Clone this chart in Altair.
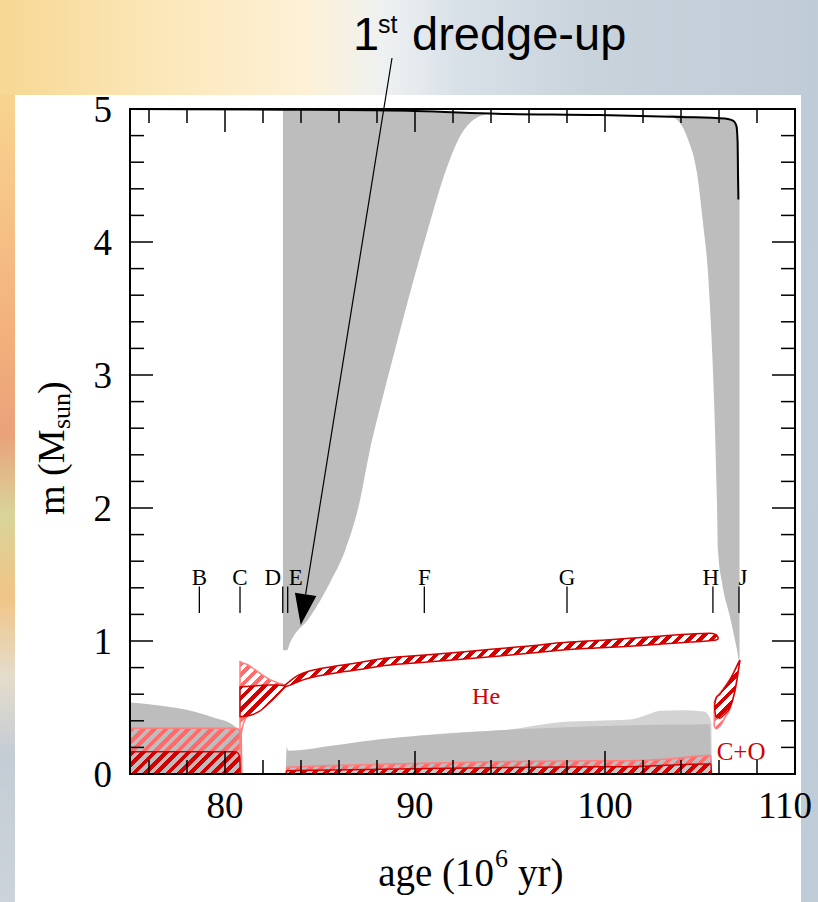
import math
import altair as alt
import pandas as pd

# ---------------- geometry of the plot ----------------
PLOT_W, PLOT_H = 665, 665
PAD = {"left": 130, "top": 109, "right": 23, "bottom": 128}
AGE_DOMAIN = [75, 110]
MASS_DOMAIN = [0, 5]
PX_PER_AGE = PLOT_W / (AGE_DOMAIN[1] - AGE_DOMAIN[0])
PX_PER_MASS = PLOT_H / (MASS_DOMAIN[1] - MASS_DOMAIN[0])

X_SCALE = alt.Scale(domain=AGE_DOMAIN, nice=False, zero=False)
Y_SCALE = alt.Scale(domain=MASS_DOMAIN, nice=False, zero=False)

# ---------------- data (age in Myr, mass coordinate in Msun) ----------------
# total stellar mass (surface)
surface_age = [75, 83, 90, 94.3, 99.7, 104, 106.3, 106.6, 106.8, 106.92, 106.98, 107.0, 107.02]
surface_mass = [5.0, 4.995, 4.985, 4.965, 4.955, 4.94, 4.928, 4.92, 4.905, 4.87, 4.75, 4.5, 4.32]

# convective core on the main sequence
mscore_age = [75, 76, 77.7, 78.5, 79.5, 80.3, 80.6, 80.75, 80.8, 80.83]
mscore_top = [0.537, 0.525, 0.49, 0.465, 0.42, 0.38, 0.34, 0.28, 0.2, 0.0]

# core hydrogen burning (weak / strong energy generation)
hcore_weak_age = [75, 80.6, 80.75, 80.85, 80.88]
hcore_weak_top = [0.344, 0.344, 0.33, 0.29, 0.0]
hcore_strong_age = [75, 80.55, 80.7, 80.78, 80.8]
hcore_strong_top = [0.168, 0.168, 0.155, 0.12, 0.0]

# thick hydrogen shell after core exhaustion
thick_weak_age = [80.79, 80.8, 80.85, 81.14, 81.67, 82.37, 82.9, 83.16, 83.25]
thick_weak_lo = [0.17, 0.2, 0.3, 0.43, 0.48, 0.57, 0.63, 0.655, 0.662]
thick_weak_hi = [0.845, 0.845, 0.84, 0.825, 0.775, 0.71, 0.68, 0.667, 0.662]
thick_strong_age = [80.79, 81.3, 81.8, 82.3, 82.8, 83.16]
thick_strong_lo = [0.43, 0.44, 0.47, 0.53, 0.6, 0.655]
thick_strong_hi = [0.655, 0.66, 0.665, 0.67, 0.67, 0.662]

# convective envelope on the giant branch (1st dredge-up)
env_age = [83.05, 83.26, 83.42, 84.47, 85.53, 86.32, 87.11, 87.63, 88.26, 88.95,
           89.63, 90.63, 91.68, 92.47, 92.89, 93.58, 93.9]
env_lo = [0.93, 0.93, 0.985, 1.18, 1.44, 1.68, 2.06, 2.44, 2.81, 3.19,
          3.56, 4.07, 4.56, 4.82, 4.895, 4.955, 4.965]
env_hi = [4.995, 4.995, 4.994, 4.992, 4.99, 4.988, 4.986, 4.985, 4.983, 4.981,
          4.979, 4.976, 4.973, 4.97, 4.968, 4.966, 4.965]

# convective envelope on the early AGB
agb_env_age = [103.2, 103.26, 103.95, 104.37, 104.84, 105.16, 105.42, 105.6, 105.74,
               105.89, 105.95, 106.16, 106.58, 106.95, 107.05, 107.08]
agb_env_lo = [4.955, 4.955, 4.895, 4.77, 4.52, 4.14, 3.77, 3.3, 2.81,
              2.06, 1.68, 1.44, 1.18, 0.93, 0.857, 0.857]
agb_env_hi = [4.955, 4.956, 4.952, 4.948, 4.944, 4.94, 4.937, 4.935, 4.933,
              4.93, 4.928, 4.925, 4.92, 4.88, 4.6, 4.3]

# hydrogen burning shell on top of the He core
hshell_age = [83.16, 83.5, 83.84, 84.5, 85.68, 87.1, 88.16, 90, 92, 94, 96, 97.63,
              99.5, 101.3, 103, 104.5, 105.5, 105.85, 105.95]
hshell_lo = [0.656, 0.672, 0.694, 0.724, 0.756, 0.785, 0.811, 0.835, 0.858, 0.882,
             0.907, 0.930, 0.947, 0.960, 0.978, 0.992, 1.002, 1.008, 1.016]
hshell_hi = [0.668, 0.708, 0.742, 0.776, 0.808, 0.839, 0.865, 0.889, 0.912, 0.938,
             0.963, 0.986, 1.003, 1.020, 1.038, 1.052, 1.058, 1.048, 1.028]

# convective core during core helium burning (+ semiconvective zone)
hecore_age = [83.2, 83.25, 83.32, 84, 85.5, 87.1, 88.16, 90, 92, 94, 96, 98, 100,
              102, 104, 105.5, 105.6]
hecore_top = [0.0, 0.205, 0.175, 0.18, 0.21, 0.243, 0.262, 0.285, 0.305, 0.325,
              0.34, 0.352, 0.36, 0.368, 0.372, 0.375, 0.0]
semiconv_age = [90, 92, 94.7, 97.63, 99.5, 101.3, 102.3, 102.9, 104, 105.2, 105.45, 105.6, 105.62]
semiconv_top = [0.285, 0.31, 0.33, 0.39, 0.40, 0.41, 0.45, 0.475, 0.48, 0.47, 0.44, 0.375, 0.0]

# core helium burning (weak / strong)
heburn_weak_age = [83.22, 83.25, 88.16, 97.63, 101.3, 103.5, 105.4, 105.58, 105.6]
heburn_weak_top = [0.0, 0.05, 0.073, 0.098, 0.1, 0.115, 0.14, 0.14, 0.0]
heburn_strong_age = [83.22, 83.25, 88.16, 97.63, 101.3, 105.4, 105.58, 105.6]
heburn_strong_top = [0.0, 0.025, 0.035, 0.053, 0.055, 0.075, 0.075, 0.0]

# helium shell burning after core He exhaustion
heshell_weak_age = [105.75, 105.85, 106.05, 106.3, 106.58, 106.84, 107.1]
heshell_weak_lo = [0.36, 0.34, 0.36, 0.42, 0.49, 0.62, 0.857]
heshell_weak_hi = [0.54, 0.575, 0.61, 0.655, 0.715, 0.785, 0.857]
heshell_strong_age = [105.78, 105.85, 106.05, 106.3, 106.58, 106.84, 107.0, 107.1]
heshell_strong_lo = [0.48, 0.43, 0.42, 0.45, 0.5, 0.63, 0.76, 0.857]
heshell_strong_hi = [0.53, 0.57, 0.6, 0.65, 0.71, 0.78, 0.83, 0.857]

# evolutionary phase markers
phase_labels = ["B", "C", "D", "E", "F", "G", "H", "J"]
phase_age = [78.65, 80.79, 83.04, 83.3, 90.49, 98.0, 105.68, 107.05]
phase_label_shift = [0, 0, -10, 8, 0, 0, -2, 4]

# axis ticks and tick labels
x_major = [80, 90, 100, 110]
x_minor = [76, 78, 82, 84, 86, 88, 92, 94, 96, 98, 102, 104, 106, 108]
y_major = [1, 2, 3, 4]
y_minor = [0.2, 0.4, 0.6, 0.8, 1.2, 1.4, 1.6, 1.8, 2.2, 2.4, 2.6, 2.8,
           3.2, 3.4, 3.6, 3.8, 4.2, 4.4, 4.6, 4.8]
x_labels = [80, 90, 100]
x_edge_label = [110]
y_labels = [0, 1, 2, 3, 4, 5]

# ---------------- colours ----------------
GREY = "#bdbdbd"
LIGHT_GREY = "#d3d3d3"
RED = "#d40000"
PINK = "#ff6b6b"
SERIF = "Liberation Serif"
SANS = "Liberation Sans"


def table(age, lo, hi=None):
    if hi is None:
        return pd.DataFrame({"age": age, "lo": [0.0] * len(age), "hi": lo})
    return pd.DataFrame({"age": age, "lo": lo, "hi": hi})


def hatch(df, on, off, period=8.0, duty=0.5):
    """Diagonal '/' hatching as a hard-stop linear gradient in bbox units."""
    w = (df["age"].max() - df["age"].min()) * PX_PER_AGE
    h = (df["hi"].max() - df["lo"].min()) * PX_PER_MASS
    w, h = max(w, 1.0), max(h, 1.0)
    dt = period * math.sqrt(2) / (w + h)
    stops = []
    t = 0.0
    while t < 1.0:
        a = min(t + duty * dt, 1.0)
        b = min(t + dt, 1.0)
        stops += [alt.GradientStop(color=on, offset=round(t, 6)),
                  alt.GradientStop(color=on, offset=round(a, 6)),
                  alt.GradientStop(color=off, offset=round(a, 6)),
                  alt.GradientStop(color=off, offset=round(b, 6))]
        t += dt
    k = (w + h) / (w * w + h * h)
    return alt.LinearGradient(gradient="linear", stops=stops,
                              x1=0, y1=0, x2=w * k, y2=h * k)


def area(df, fill, stroke=None, width=0.0, interp="monotone"):
    kw = {"fill": fill, "interpolate": interp}
    if stroke is not None:
        kw.update(stroke=stroke, strokeWidth=width)
    return alt.Chart(df).mark_area(**kw).encode(
        x=alt.X("age:Q", scale=X_SCALE, axis=None),
        y=alt.Y("lo:Q", scale=Y_SCALE, axis=None),
        y2="hi:Q",
    )


one = pd.DataFrame({"a": [0]})


def px_text(text, x, y, size, font=SERIF, color="black", align="left", angle=0,
            baseline="alphabetic"):
    kw = dict(text=text, font=font, fontSize=size, color=color, align=align,
              baseline=baseline)
    if angle:
        kw["angle"] = angle
    return alt.Chart(one).mark_text(**kw).encode(x=alt.value(x), y=alt.value(y))


def data_text(text, age, m, size, color, dx=0):
    return alt.Chart(one).mark_text(
        text=text, font=SERIF, fontSize=size, color=color, align="center", dx=dx).encode(
        x=alt.XDatum(age, scale=X_SCALE, axis=None),
        y=alt.YDatum(m, scale=Y_SCALE, axis=None))


def px_rect(x0, x1, y0, y1, fill):
    return alt.Chart(one).mark_rect(fill=fill, strokeWidth=0).encode(
        x=alt.value(x0), x2=alt.value(x1), y=alt.value(y0), y2=alt.value(y1))


layers = []

# ---------------- slide background and white panel ----------------
L, T = PAD["left"], PAD["top"]
bg_top = alt.LinearGradient(gradient="linear", x1=0, y1=0, x2=1, y2=0, stops=[
    alt.GradientStop(color="#f7d894", offset=0.0),
    alt.GradientStop(color="#fbe6b6", offset=0.18),
    alt.GradientStop(color="#fdf1d8", offset=0.38),
    alt.GradientStop(color="#eef1f2", offset=0.47),
    alt.GradientStop(color="#d9e1e8", offset=0.56),
    alt.GradientStop(color="#c9d3dc", offset=0.72),
    alt.GradientStop(color="#bfcbd6", offset=1.0)])
layers.append(px_rect(-L, PLOT_W + PAD["right"], -T, PLOT_H + PAD["bottom"], bg_top))
bg_left = alt.LinearGradient(gradient="linear", x1=0, y1=0, x2=0, y2=1, stops=[
    alt.GradientStop(color="#f8d490", offset=0.0),
    alt.GradientStop(color="#f3b07c", offset=0.3),
    alt.GradientStop(color="#e9a27a", offset=0.42),
    alt.GradientStop(color="#d9d49a", offset=0.52),
    alt.GradientStop(color="#f1c486", offset=0.62),
    alt.GradientStop(color="#e4dccb", offset=0.72),
    alt.GradientStop(color="#c4ccd5", offset=0.82),
    alt.GradientStop(color="#ccd3da", offset=1.0)])
layers.append(px_rect(-L, -L + 15, -14, PLOT_H + PAD["bottom"], bg_left))
layers.append(px_rect(-L + 15, PLOT_W + 6, -14, PLOT_H + PAD["bottom"], "white"))

# ---------------- convective zones ----------------
layers.append(area(table(mscore_age, mscore_top), GREY))
layers.append(area(table(env_age, env_lo, env_hi), GREY))
layers.append(area(table(agb_env_age, agb_env_lo, agb_env_hi), GREY))
layers.append(area(table(semiconv_age, semiconv_top), LIGHT_GREY))
layers.append(area(table(hecore_age, hecore_top), GREY))

# ---------------- nuclear burning regions (hatched) ----------------
burning = [
    (table(hcore_weak_age, hcore_weak_top), PINK, GREY, "#ff7f7f"),
    (table(hcore_strong_age, hcore_strong_top), RED, GREY, RED),
    (table(thick_weak_age, thick_weak_lo, thick_weak_hi), PINK, "white", "#ff7f7f"),
    (table(thick_strong_age, thick_strong_lo, thick_strong_hi), RED, "white", RED),
    (table(hshell_age, hshell_lo, hshell_hi), RED, "white", RED),
    (table(heburn_weak_age, heburn_weak_top), PINK, GREY, "#ff7f7f"),
    (table(heburn_strong_age, heburn_strong_top), RED, "#c9c9c9", RED),
    (table(heshell_weak_age, heshell_weak_lo, heshell_weak_hi), PINK, "white", "#ff7f7f"),
    (table(heshell_strong_age, heshell_strong_lo, heshell_strong_hi), RED, "white", RED),
]
for df, on, off, edge in burning:
    layers.append(area(df, hatch(df, on, off), stroke=edge, width=1.5))

# ---------------- stellar surface ----------------
surf = pd.DataFrame({"age": surface_age, "m": surface_mass,
                     "i": list(range(len(surface_age)))})
layers.append(alt.Chart(surf).mark_line(color="black", strokeWidth=2, interpolate="monotone").encode(
    x=alt.X("age:Q", scale=X_SCALE, axis=None),
    y=alt.Y("m:Q", scale=Y_SCALE, axis=None),
    order="i:Q"))

# ---------------- inward ticks on all four sides ----------------
def xticks(vals, length):
    d = pd.DataFrame({"age": vals})
    enc_x = alt.X("age:Q", scale=X_SCALE, axis=None)
    bottom = alt.Chart(d).mark_rule(color="black", strokeWidth=1.5).encode(
        x=enc_x, y=alt.value(PLOT_H), y2=alt.value(PLOT_H - length))
    top = alt.Chart(d).mark_rule(color="black", strokeWidth=1.5).encode(
        x=enc_x, y=alt.value(0), y2=alt.value(length))
    return [bottom, top]


def yticks(vals, length):
    d = pd.DataFrame({"m": vals})
    enc_y = alt.Y("m:Q", scale=Y_SCALE, axis=None)
    left = alt.Chart(d).mark_rule(color="black", strokeWidth=1.5).encode(
        y=enc_y, x=alt.value(0), x2=alt.value(length))
    right = alt.Chart(d).mark_rule(color="black", strokeWidth=1.5).encode(
        y=enc_y, x=alt.value(PLOT_W), x2=alt.value(PLOT_W - length))
    return [left, right]


layers += xticks(x_minor, 14) + xticks(x_major, 23)
layers += yticks(y_minor, 14) + yticks(y_major, 23)

# frame
layers.append(alt.Chart(one).mark_rect(fill=None, stroke="black", strokeWidth=2).encode(
    x=alt.value(0), x2=alt.value(PLOT_W), y=alt.value(0), y2=alt.value(PLOT_H)))


# tick labels placed through the scales
def xlabel_layer(vals, dx):
    d = pd.DataFrame({"age": vals, "lab": [str(v) for v in vals]})
    return alt.Chart(d).mark_text(font=SERIF, fontSize=37, color="black", dx=dx,
                                  align="center", baseline="alphabetic").encode(
        x=alt.X("age:Q", scale=X_SCALE, axis=None),
        y=alt.value(PLOT_H + 44), text="lab:N")


layers.append(xlabel_layer(x_labels, 0))
layers.append(xlabel_layer(x_edge_label, -10))
yl = pd.DataFrame({"m": y_labels, "lab": [str(v) for v in y_labels]})
layers.append(alt.Chart(yl).mark_text(font=SERIF, fontSize=37, color="black",
                                      align="right", baseline="alphabetic", dy=12.5).encode(
    y=alt.Y("m:Q", scale=Y_SCALE, axis=None),
    x=alt.value(-18), text="lab:N"))

# ---------------- phase markers ----------------
phases = pd.DataFrame({"age": phase_age, "lab": phase_labels})
layers.append(alt.Chart(phases).mark_rule(color="black", strokeWidth=1.3).encode(
    x=alt.X("age:Q", scale=X_SCALE, axis=None),
    y=alt.YDatum(1.21, scale=Y_SCALE, axis=None), y2=alt.Y2Datum(1.41)))
for lab, age, dx in zip(phase_labels, phase_age, phase_label_shift):
    layers.append(data_text(lab, age, 1.47, 23, "black", dx=dx))

# region names
layers.append(data_text("He", 93.74, 0.579, 24, RED))
layers.append(data_text("C+O", 107.16, 0.165, 25, RED))

# ---------------- axis titles (with sub/superscripts) ----------------
layers.append(px_text("age (10", 364, 777, 39, align="right"))
layers.append(px_text("6", 365, 758, 26))
layers.append(px_text("yr)", 388, 777, 39))

layers.append(px_text("m (M", -66, 406, 38, angle=270))
layers.append(px_text("sun", -60, 320, 26, angle=270))
layers.append(px_text(")", -66, 285, 38, angle=270))

# ---------------- dredge-up annotation ----------------
layers.append(px_text("1", 223, -59, 47, font=SANS))
layers.append(px_text("st", 248, -76, 25, font=SANS))
layers.append(px_text("dredge-up", 282, -59, 47, font=SANS))

ARROW_START = (262.0, -51.0)
ARROW_TIP = (170.7, 516.0)
dx_, dy_ = ARROW_TIP[0] - ARROW_START[0], ARROW_TIP[1] - ARROW_START[1]
norm = math.hypot(dx_, dy_)
ux, uy = dx_ / norm, dy_ / norm
HEAD = 31.0
layers.append(alt.Chart(one).mark_rule(color="black", strokeWidth=1.2).encode(
    x=alt.value(ARROW_START[0]), y=alt.value(ARROW_START[1]),
    x2=alt.value(ARROW_TIP[0] - HEAD * ux), y2=alt.value(ARROW_TIP[1] - HEAD * uy)))
layers.append(alt.Chart(one).mark_point(
    shape="M-0.7,-1L0.7,-1L0,1Z", filled=True, color="black", opacity=1,
    size=HEAD * HEAD, angle=math.degrees(math.atan2(-ux, uy)) % 360).encode(
    x=alt.value(ARROW_TIP[0] - HEAD / 2 * ux), y=alt.value(ARROW_TIP[1] - HEAD / 2 * uy)))

chart = alt.layer(*layers).properties(
    width=PLOT_W, height=PLOT_H, padding=PAD,
    autosize=alt.AutoSizeParams(type="none"), background="white",
).configure_view(stroke=None)

chart.save("out.html", embed_options={"renderer": "svg", "actions": False})
